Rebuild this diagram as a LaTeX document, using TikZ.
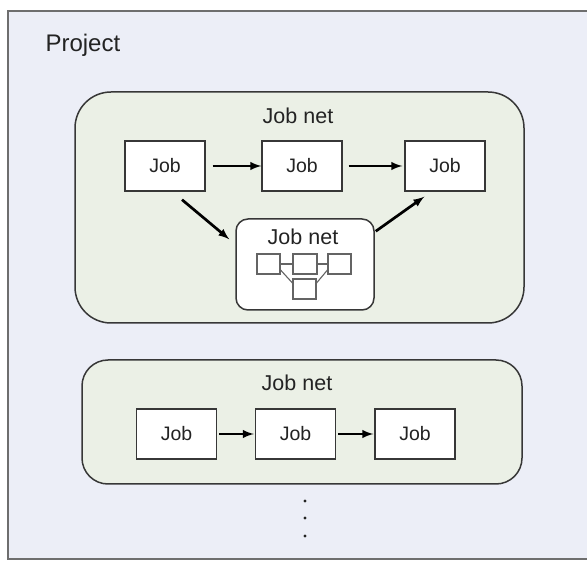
\documentclass[tikz,border=0pt]{standalone}
\usepackage{fontspec}
\setmainfont{Liberation Sans}
\definecolor{projbg}{RGB}{236,238,247}
\definecolor{netgreen}{RGB}{235,240,230}
\definecolor{boxline}{RGB}{55,55,55}
\definecolor{frameline}{RGB}{110,110,110}
\definecolor{minigray}{RGB}{100,100,100}
\definecolor{txt}{RGB}{35,35,35}
\begin{document}
\begin{tikzpicture}[x=1pt,y=-1pt,
    jobbox/.style={rectangle,draw=boxline,fill=white,line width=1.4pt,minimum width=80pt,minimum height=50pt,inner sep=0pt,font=\fontsize{19.5}{22}\selectfont,text=txt},
    netbox/.style={rectangle,draw=boxline,fill=netgreen,line width=1.5pt,inner sep=0pt},
    netlab/.style={font=\fontsize{21.5}{24}\selectfont,text=txt},
    mini/.style={rectangle,draw=minigray,fill=white,line width=1.1pt,minimum height=20pt,inner sep=0pt},
    arr/.style={-latex,line width=2.7pt,black}]
    \useasboundingbox (0,0) rectangle (587,561);
    \fill[projbg] (8,11) rectangle (587,559);
    \draw[frameline,line width=2pt] (587,11) -- (8,11) -- (8,559) -- (587,559);
    \node[anchor=base west,font=\fontsize{24}{28}\selectfont,text=txt] (proj) at (42,52) {Project};

    % first job net
    \node[netbox,rounded corners=36pt,minimum width=449pt,minimum height=231pt] (net1) at (299.5,207.5) {};
    \node[netlab] (net1lab) at (298,115.5) {Job net};
    \foreach \x/\n in {165/J1,302/J2,445/J3} {
      \node[jobbox] (\n) at (\x,166) {Job};
    }
    \draw[arr,shorten <=7pt] (J1) -- (J2);
    \draw[arr,shorten <=6pt,shorten >=2pt] (J2) -- (J3);

    % nested job net
    \node[netbox,fill=white,rounded corners=12pt,minimum width=138pt,minimum height=91pt] (sub) at (305,264.5) {};
    \node[netlab] (sublab) at (303,237) {Job net};
    \node[mini,minimum width=23pt] (m1) at (268.5,264) {};
    \node[mini,minimum width=24pt] (m2) at (305,264) {};
    \node[mini,minimum width=23pt] (m3) at (339.5,264) {};
    \node[mini,minimum width=23pt] (m4) at (304.5,289) {};
    \draw[minigray,line width=1.1pt] (m1) -- (m2) (m2) -- (m3);
    \draw[minigray,line width=1.1pt] ([yshift=-6pt]m1.east) -- ([yshift=6pt]m4.west);
    \draw[minigray,line width=1.1pt] ([yshift=-6pt]m3.west) -- ([yshift=6pt]m4.east);
    \draw[arr] ([xshift=17pt,yshift=-8pt]J1.south) -- ([xshift=-6pt,yshift=-21pt]sub.north west);
    \draw[arr] ([xshift=1pt,yshift=-13pt]sub.north east) -- ([xshift=20pt,yshift=-5pt]J3.south west);

    % second job net
    \node[netbox,rounded corners=26pt,minimum width=440pt,minimum height=124pt] (net2) at (302,422) {};
    \node[netlab] (net2lab) at (297,383) {Job net};
    \foreach \x/\n in {176.5/K1,295.5/K2,415/K3} {
      \node[jobbox] (\n) at (\x,434) {Job};
    }
    \draw[arr,shorten <=2pt,shorten >=1pt] (K1) -- (K2);
    \draw[arr,shorten <=2pt,shorten >=1pt] (K2) -- (K3);

    % more job nets
    \foreach \y in {501,518,536} {
      \fill[txt] (305,\y) circle (1.6pt);
    }
\end{tikzpicture}
\end{document}
